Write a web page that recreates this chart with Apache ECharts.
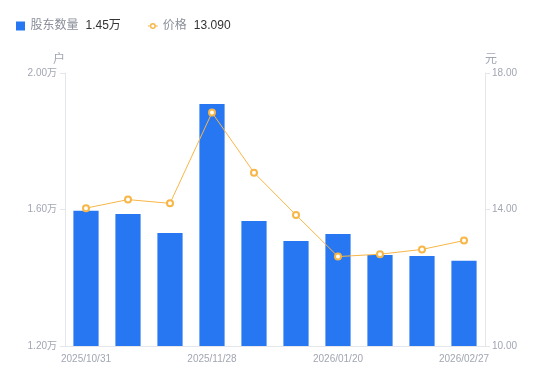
<!DOCTYPE html>
<html><head><meta charset="utf-8">
<script src="https://cdn.jsdelivr.net/npm/echarts@6/dist/echarts.min.js"></script>
<style>html,body{margin:0;padding:0;background:#fff}#c{width:550px;height:381px}</style>
</head><body><div id="c"></div>
<script>
const categories = ['2025/10/31','2025/11/10','2025/11/20','2025/11/28','2025/12/10','2025/12/31','2026/01/20','2026/01/31','2026/02/10','2026/02/27'];
const holders = [15960, 15870, 15310, 19090, 15660, 15080, 15280, 14670, 14640, 14500];
const prices = [14.04, 14.29, 14.18, 16.84, 15.08, 13.84, 12.62, 12.69, 12.83, 13.09];
const holderTicks = [12000, 16000, 20000];
const priceTicks = [10, 14, 18];

const axisGray = '#a2a6b2';
const lineGray = '#e4e6ea';
const FONT = '"Liberation Sans", "Noto Sans CJK SC", sans-serif';
const chart = echarts.init(document.getElementById('c'), null, {renderer:'canvas'});
const lastHolder = (holders[holders.length-1]/10000).toFixed(2) + '万';
const lastPrice = prices[prices.length-1].toFixed(3);
const lineIcon = 'path://M0,2.5H2.2V3.5H0Z M7.8,2.5H10V3.5H7.8Z M2,3A3,3 0 1,1 8,3A3,3 0 1,1 2,3Z M3.4,3A1.6,1.6 0 1,0 6.6,3A1.6,1.6 0 1,0 3.4,3Z';
chart.setOption({
  animation:false,
  textStyle:{fontFamily:FONT},
  legend:{
    left:11, top:15, itemWidth:10, itemHeight:9, itemGap:27,
    data:[{name:'股东数量', icon:'path://M0,0H9V9H0Z'}, {name:'价格', icon:lineIcon, itemStyle:{color:'#f8b646'}}],
    formatter: function(n){ return n==='股东数量' ? '{n|'+n+'}{v|'+lastHolder+'}' : '{n|'+n+'}{v|'+lastPrice+'}'; },
    textStyle:{ fontFamily:FONT, rich:{ n:{color:'#8a8e99', fontSize:12, fontFamily:FONT}, v:{color:'#333', fontSize:12, fontFamily:FONT, padding:[0,0,0,7]} } }
  },
  grid:{left:65, right:65, top:73, bottom:35},
  xAxis:{
    type:'category', data:categories,
    axisLine:{lineStyle:{color:lineGray}},
    axisTick:{show:false},
    axisLabel:{color:axisGray, fontSize:10, interval:2, margin:8, fontFamily:FONT}
  },
  yAxis:[{
    type:'value', min:holderTicks[0], max:holderTicks[holderTicks.length-1], interval:4000,
    name:'户', nameGap:7, nameTextStyle:{color:axisGray, fontSize:12, align:'right', fontFamily:FONT},
    axisLine:{show:true, lineStyle:{color:lineGray}},
    axisTick:{show:true, length:5, lineStyle:{color:lineGray}},
    splitLine:{show:false},
    axisLabel:{color:axisGray, fontSize:10, margin:8, fontFamily:FONT, formatter:v=>(v/10000).toFixed(2)+'万'}
  },{
    type:'value', min:priceTicks[0], max:priceTicks[priceTicks.length-1], interval:4,
    name:'元', nameGap:7, nameTextStyle:{color:axisGray, fontSize:12, align:'left', fontFamily:FONT},
    axisLine:{show:true, lineStyle:{color:lineGray}},
    axisTick:{show:true, length:5, lineStyle:{color:lineGray}},
    splitLine:{show:false},
    axisLabel:{color:axisGray, fontSize:10, margin:7, fontFamily:FONT, formatter:v=>v.toFixed(2)}
  }],
  series:[{
    name:'股东数量', type:'bar', data:holders, yAxisIndex:0, barWidth:'60%',
    itemStyle:{color:'#2877f2'}
  },{
    name:'价格', type:'line', data:prices, yAxisIndex:1,
    symbol:'emptyCircle', symbolSize:6,
    lineStyle:{color:'#f8b646', width:1},
    itemStyle:{color:'#f8b646', borderWidth:2}
  }]
});
</script></body></html>
